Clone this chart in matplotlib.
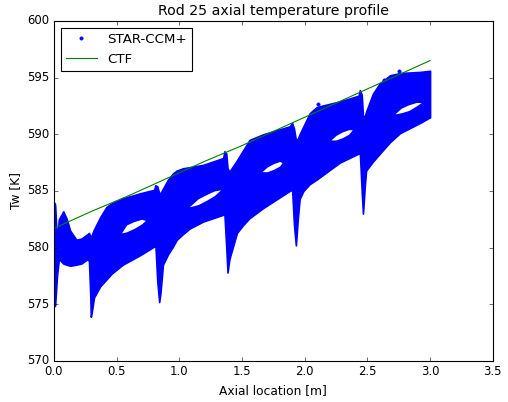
import matplotlib
matplotlib.use('Agg')
import matplotlib.pyplot as plt

star_x = [0.000, 0.010, 0.025, 0.040, 0.075, 0.100, 0.130, 0.180, 0.220, 0.270,
          0.280, 0.290, 0.295, 0.305, 0.320, 0.370, 0.420, 0.460, 0.550, 0.690,
          0.800, 0.810, 0.825, 0.840, 0.850, 0.870, 0.910, 0.950, 0.980, 1.030,
          1.085, 1.190, 1.350, 1.360, 1.375, 1.385, 1.400, 1.460, 1.510, 1.560,
          1.670, 1.880, 1.900, 1.915, 1.930, 1.945, 1.960, 1.990, 2.040, 2.095,
          2.280, 2.430, 2.440, 2.455, 2.465, 2.480, 2.490, 2.545, 2.600, 2.680,
          2.760, 2.920, 3.000]
star_lo = [574.8, 574.9, 577.5, 579.0, 578.6, 578.5, 578.4, 578.5, 578.6, 579.0,
           578.8, 576.0, 573.9, 574.5, 575.6, 576.6, 577.2, 577.7, 578.5, 579.35,
           580.1, 580.2, 577.0, 575.2, 576.0, 578.5, 579.4, 580.1, 580.7, 581.2,
           581.7, 582.3, 582.9, 583.0, 580.0, 577.8, 579.0, 581.3, 582.0, 582.6,
           583.5, 585.0, 585.1, 582.0, 580.2, 582.5, 584.3, 585.0, 585.6, 586.0,
           587.5, 588.3, 588.4, 585.0, 583.0, 585.5, 586.8, 587.6, 588.3, 589.3,
           590.1, 591.0, 591.5]
star_up = [584.0, 583.8, 580.5, 582.5, 583.2, 582.6, 581.5, 580.7, 580.8, 581.2,
           581.3, 581.0, 580.8, 581.2, 581.6, 582.7, 583.6, 583.9, 584.35, 584.8,
           585.1, 585.5, 585.4, 584.8, 584.8, 585.2, 586.0, 586.55, 586.8, 587.0,
           587.1, 587.3, 587.9, 588.5, 588.3, 587.0, 586.7, 587.7, 588.6, 589.5,
           590.0, 590.7, 591.0, 590.5, 589.5, 589.6, 590.0, 590.7, 591.85, 592.4,
           592.9, 593.4, 593.9, 593.5, 591.6, 591.6, 592.0, 593.6, 594.5, 595.2,
           595.4, 595.5, 595.6]

# empty lens-shaped gaps inside the cloud
holes_x = [[0.54, 0.58, 0.64, 0.70, 0.73],
           [1.08, 1.15, 1.22, 1.28, 1.33],
           [1.66, 1.70, 1.75, 1.80, 1.82],
           [2.21, 2.25, 2.30, 2.35, 2.38],
           [2.72, 2.77, 2.83, 2.89, 2.93]]
holes_lo = [[581.3, 581.4, 581.7, 582.1, 582.4],
            [583.6, 583.8, 584.2, 584.6, 585.1],
            [586.7, 586.7, 586.9, 587.2, 587.5],
            [589.5, 589.5, 589.7, 590.0, 590.4],
            [591.8, 591.9, 592.1, 592.5, 592.8]]
holes_up = [[581.3, 582.0, 582.3, 582.5, 582.4],
            [583.6, 584.3, 584.7, 585.0, 585.1],
            [586.7, 587.1, 587.4, 587.6, 587.5],
            [589.5, 589.9, 590.2, 590.4, 590.4],
            [591.8, 592.3, 592.6, 592.8, 592.8]]

# a few stray points above the cloud
outlier_x = [2.107, 2.63, 2.755]
outlier_y = [592.7, 594.8, 595.6]

# CTF prediction
ctf_x = [0.0, 0.3, 0.6, 0.9, 1.2, 1.5, 1.8, 2.1, 2.4, 2.7, 3.0]
ctf_y = [581.7, 583.2, 584.6, 586.1, 587.6, 589.0, 590.5, 592.0, 593.5, 595.0, 596.5]

plt.style.use('classic')
fig = plt.figure(figsize=(6.35, 5.025), dpi=80, facecolor='white')
ax = fig.add_axes([0.106, 0.102, 0.864, 0.846])

ax.fill_between(star_x, star_lo, star_up, color='b', edgecolor='b', linewidth=1.5)
for hx, hl, hu in zip(holes_x, holes_lo, holes_up):
    ax.fill_between(hx, hl, hu, color='white', linewidth=0)
ax.plot(outlier_x, outlier_y, 'b.', markersize=6, label='STAR-CCM+')
ax.plot(ctf_x, ctf_y, 'g-', label='CTF')

ax.set_xlim(0, 3.5)
ax.set_ylim(570, 600)
ax.set_title('Rod 25 axial temperature profile', fontsize=12.7)
ax.set_xlabel('Axial location [m]', fontsize=11)
ax.set_ylabel('Tw [K]', fontsize=11)
ax.tick_params(labelsize=10.5)
ax.legend(loc='upper left', numpoints=1, fontsize=12, handlelength=2.3)

fig.savefig('out.png', dpi=80, facecolor='white')
